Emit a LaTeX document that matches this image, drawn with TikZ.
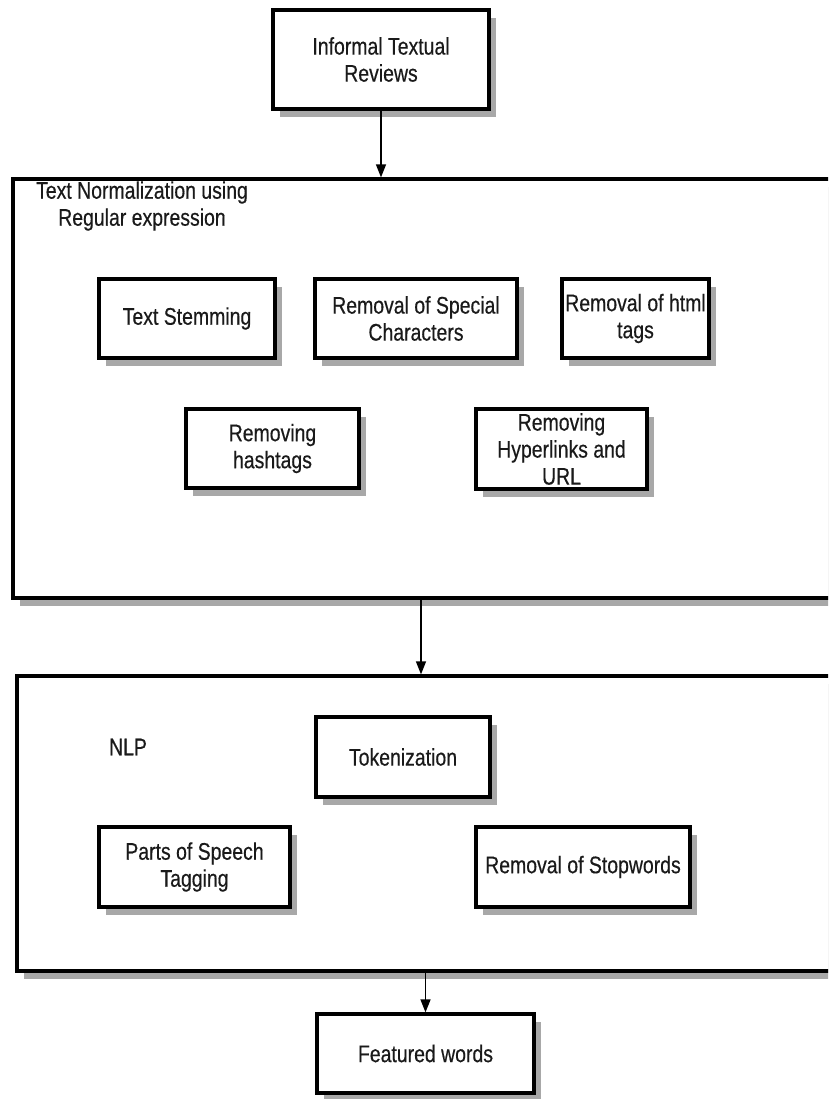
\documentclass[tikz,border=0pt]{standalone}
\usepackage{fontspec}
\setmainfont[FakeStretch=0.81,FakeBold=0.4]{Liberation Sans}
\usetikzlibrary{arrows.meta,shadows}
\definecolor{txt}{HTML}{1A1A1A}
\definecolor{shd}{HTML}{A8A8A8}
\begin{document}
\begin{tikzpicture}[x=1pt,y=-1pt,
  every node/.style={font=\fontsize{24}{27}\selectfont, text=txt},
  box/.style={draw=black, line width=3.2pt, fill=white, align=center, inner sep=2pt,
    drop shadow={shadow xshift=7pt, shadow yshift=-8pt, fill=shd, opacity=1}},
  frame/.style={box},
  arr/.style={draw=black, line width=1.3pt, -{Triangle[length=13pt,width=10pt]}},
  lbl/.style={align=center, inner sep=0pt}]
\useasboundingbox (0,0) rectangle (828,1099);
\clip (0,0) rectangle (828,1099);
% source
\node[box, minimum width=216pt, minimum height=99pt] (src) at (381,59.5) {Informal Textual\\Reviews};
% frame 1
\node[frame, minimum width=827pt, minimum height=419pt] (norm) at (426.5,388.5) {};
\node[lbl] (normt) at (142,206) {Text Normalization using\\Regular expression};
\node[box, minimum width=176pt, minimum height=79pt] (stem) at (187,318.5) {Text Stemming};
\node[box, minimum width=202pt, minimum height=79pt] (spec) at (416,318.5) {Removal of Special\\Characters};
\node[box, minimum width=147pt, minimum height=79pt] (html) at (635.5,318.5) {Removal of html\\tags};
\node[box, minimum width=173pt, minimum height=79pt] (hash) at (272.5,448.5) {Removing\\hashtags};
\node[box, minimum width=171pt, minimum height=80pt] (url) at (561.5,449) {Removing\\Hyperlinks and\\URL};
% frame 2
\node[frame, minimum width=823pt, minimum height=295pt] (nlp) at (428.5,823.5) {};
\node[lbl] (nlpt) at (128,747) {NLP};
\node[box, minimum width=174pt, minimum height=80pt] (tok) at (403,757) {Tokenization};
\node[box, minimum width=191pt, minimum height=80pt] (pos) at (194.5,867) {Parts of Speech\\Tagging};
\node[box, minimum width=214pt, minimum height=80pt] (stop) at (583,867) {Removal of Stopwords};
% output
\node[box, minimum width=217pt, minimum height=79pt] (feat) at (425.5,1053.5) {Featured words};
% arrows
\draw[arr] (src.south) -- (src.south |- norm.north);
\draw[arr] ([xshift=-5.5pt]norm.south) -- ([xshift=-5.5pt]norm.south |- nlp.north);
\draw[arr] (feat.north |- nlp.south) -- (feat.north);
\end{tikzpicture}
\end{document}
